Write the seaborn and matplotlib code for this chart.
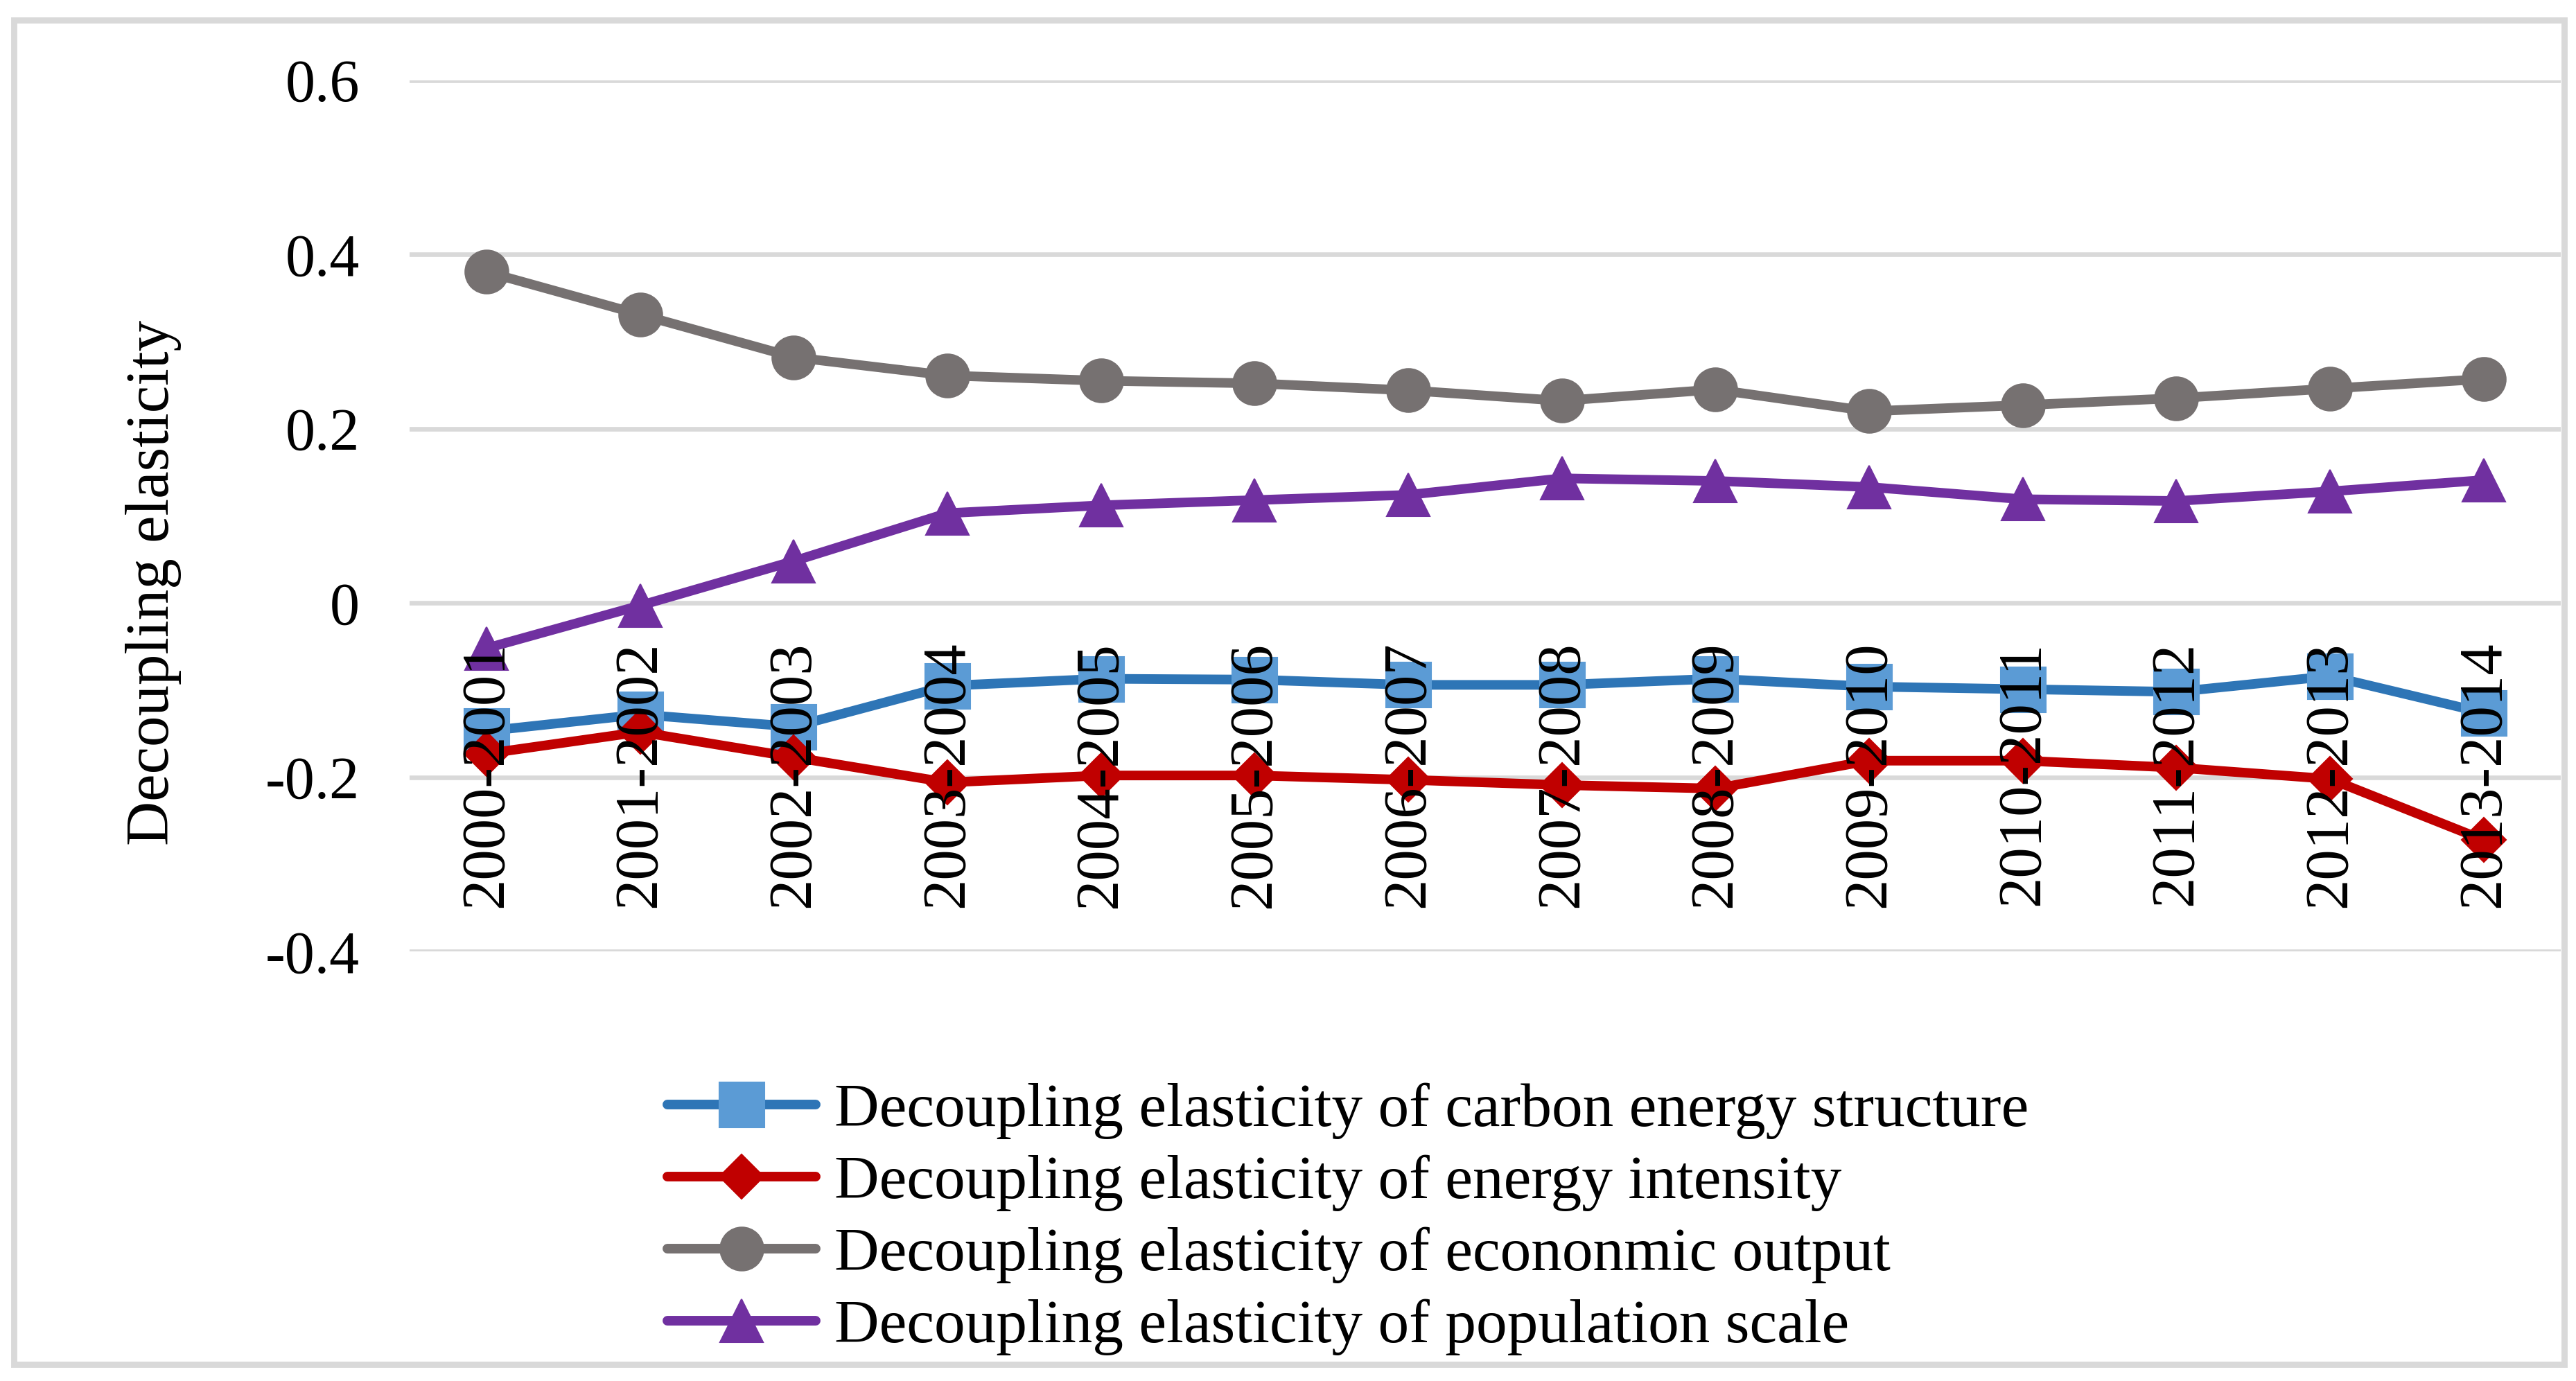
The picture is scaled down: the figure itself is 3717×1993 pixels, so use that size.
import matplotlib
matplotlib.use("Agg")
import matplotlib.pyplot as plt
import seaborn as sns
import pandas as pd
from matplotlib.patches import Rectangle

categories = ["2000-2001", "2001-2002", "2002-2003", "2003-2004", "2004-2005",
              "2005-2006", "2006-2007", "2007-2008", "2008-2009", "2009-2010",
              "2010-2011", "2011-2012", "2012-2013", "2013-2014"]

carbon_structure = [-0.147, -0.128, -0.142, -0.095, -0.087, -0.088, -0.094,
                    -0.094, -0.087, -0.096, -0.099, -0.102, -0.084, -0.126]
energy_intensity = [-0.173, -0.148, -0.177, -0.206, -0.198, -0.198, -0.203,
                    -0.209, -0.213, -0.181, -0.181, -0.189, -0.202, -0.272]
economic_output = [0.380, 0.331, 0.282, 0.261, 0.255, 0.252, 0.244,
                   0.232, 0.245, 0.220, 0.227, 0.235, 0.246, 0.257]
population_scale = [-0.052, -0.003, 0.048, 0.103, 0.112, 0.118, 0.124,
                    0.143, 0.140, 0.133, 0.119, 0.117, 0.128, 0.141]

series_labels = ["Decoupling elasticity of carbon energy structure",
                 "Decoupling elasticity of energy intensity",
                 "Decoupling elasticity of econonmic output",
                 "Decoupling elasticity of population scale"]

y_ticks = [0.6, 0.4, 0.2, 0, -0.2, -0.4]
y_tick_labels = ["0.6", "0.4", "0.2", "0", "-0.2", "-0.4"]
y_label = "Decoupling elasticity"

sns.set_theme(style="white")
plt.rcParams["font.family"] = ["Liberation Serif", "DejaVu Serif"]
plt.rcParams["axes.unicode_minus"] = False
plt.rcParams["text.color"] = "black"
plt.rcParams["axes.labelcolor"] = "black"
plt.rcParams["xtick.color"] = "black"
plt.rcParams["ytick.color"] = "black"

fig = plt.figure(figsize=(18.585, 9.965), dpi=200)
ax = fig.add_axes([0.159, 0.311, 0.835, 0.631])

styles = [
    dict(color="#2E75B6", marker="s", markerfacecolor="#5B9BD5", markeredgecolor="#5B9BD5", markersize=23.4),
    dict(color="#C00000", marker="D", markerfacecolor="#C00000", markeredgecolor="#C00000", markersize=16.5),
    dict(color="#767171", marker="o", markerfacecolor="#767171", markeredgecolor="#767171", markersize=22.5),
    dict(color="#7030A0", marker="^", markerfacecolor="#7030A0", markeredgecolor="#7030A0", markersize=22.5),
]
all_values = [carbon_structure, energy_intensity, economic_output, population_scale]

for vals, lab, st in zip(all_values, series_labels, styles):
    df = pd.DataFrame({"period": categories, "value": vals})
    sns.lineplot(data=df, x="period", y="value", ax=ax, sort=False, label=lab,
                 linewidth=5.0, **st)

for s in ["top", "right", "left", "bottom"]:
    ax.spines[s].set_visible(False)
ax.spines["bottom"].set_position(("data", 0))

ax.set_xlim(-0.5, 13.5)
ax.set_ylim(-0.4, 0.6)
ax.set_yticks(y_ticks)
ax.set_yticklabels(y_tick_labels, fontsize=31, color="black")
ax.set_xticks(range(len(categories)))
ax.set_xticklabels(categories, rotation=90, fontsize=32, color="black")
ax.tick_params(axis="both", length=0)
ax.tick_params(axis="y", pad=26)
ax.tick_params(axis="x", pad=20)

ax.yaxis.grid(True, color="#D9D9D9", linewidth=2.4)
ax.xaxis.grid(False)
ax.set_axisbelow(True)
ax.xaxis.set_zorder(5)

ax.set_xlabel("")
ax.set_ylabel(y_label, fontsize=32, color="black")
ax.yaxis.set_label_coords(-0.106, 0.423)

if ax.get_legend() is not None:
    ax.get_legend().remove()
handles, labels = ax.get_legend_handles_labels()
fig.legend(handles, labels, loc="upper left", bbox_to_anchor=(0.259, 0.216),
           bbox_transform=fig.transFigure, frameon=False, fontsize=32.2,
           handlelength=2.4, handletextpad=0.3, labelspacing=0.25, borderpad=0,
           borderaxespad=0, labelcolor="black")

fig.patches.append(Rectangle((20 / 3717, 1 - 1969 / 1993), (3700 - 20) / 3717,
                             (1969 - 29) / 1993, transform=fig.transFigure,
                             fill=False, edgecolor="#D9D9D9", linewidth=3.2))

fig.savefig("out.png", dpi=200)
